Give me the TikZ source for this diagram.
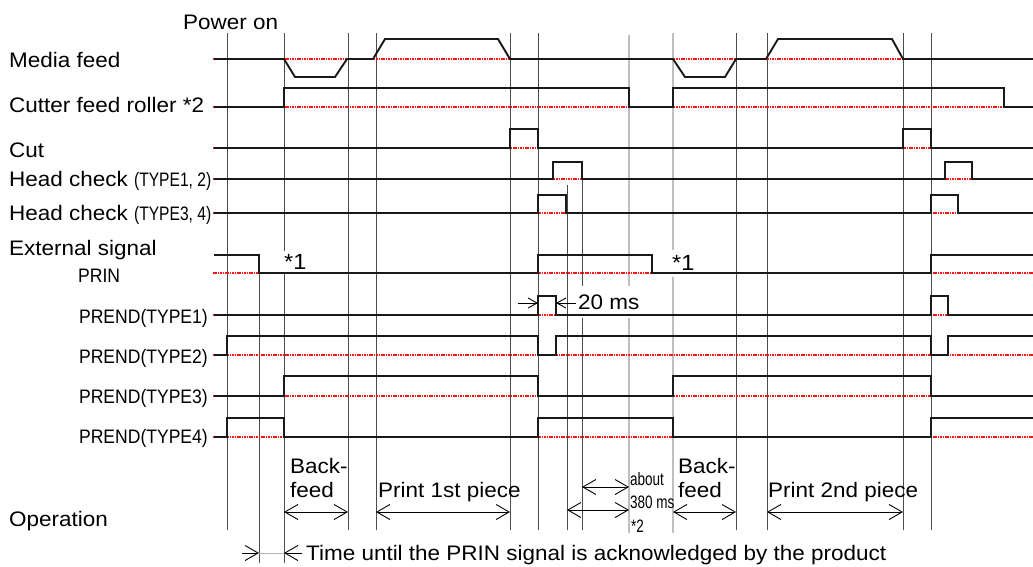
\documentclass[tikz,border=0pt]{standalone}
\usepackage{fontspec}
\setmainfont{Liberation Sans}[FakeStretch=1.07]
\newfontfamily\condfont{Liberation Sans}[FakeStretch=0.8]
\newfontfamily\prendfont{Liberation Sans}[FakeStretch=0.9]
\newfontfamily\narrowfont{Liberation Sans}[FakeStretch=0.75]
\usetikzlibrary{arrows.meta}
\definecolor{basered}{RGB}{255,20,20}
\newcommand{\bigf}{\fontsize{21}{25}\selectfont}
\newcommand{\cf}{\condfont\fontsize{19.5}{23}\selectfont}
\begin{document}
\begin{tikzpicture}[x=1pt,y=-1pt,
  sig/.style={line width=1.9pt, black!90},
  redbase/.style={draw=basered, line width=1.6pt, dash pattern=on 1.6pt off 0.8pt},
  vline/.style={line width=1pt, black!70},
  vlight/.style={line width=2pt, black!25},
  lab/.style={anchor=base west, inner sep=0pt, font=\bigf},
  clab/.style={anchor=base east, inner sep=0pt, font=\prendfont\fontsize{19.5}{23}\selectfont},
  tlab/.style={anchor=base west, inner sep=0pt, font=\narrowfont\fontsize{18}{20}\selectfont},
  blank/.style={fill=white, anchor=west, inner xsep=1pt, inner ysep=0pt, font=\bigf},
  dimarrow/.style={line width=0.9pt, {Straight Barb[length=13pt,width=15pt]}-{Straight Barb[length=13pt,width=15pt]}},
  onearrow/.style={line width=0.9pt, -{Straight Barb[length=13pt,width=15pt]}},
  smallarrow/.style={line width=0.9pt, -{Straight Barb[length=9pt,width=10pt]}}
]
\useasboundingbox (0,0) rectangle (1033,566);

% vertical reference lines
\foreach \x in {227,348,376,510,538,736,767,903,931}
  \draw[vline] (\x,33) -- (\x,530);
\draw[vline] (284,33) -- (284,563);
\draw[vline] (259,255) -- (259,563);
\draw[vline] (567,185) -- (567,530);
\draw[vline] (582,162) -- (582,530);
\draw[vlight] (629,35) -- (629,533);
\draw[vlight] (673,33) -- (673,533);

% labels with white background over the lines
\node[blank, minimum height=23pt, font=\fontsize{22}{24}\selectfont] (s1a) at (283,262) {*1};
\node[blank, minimum height=27pt, font=\fontsize{22}{24}\selectfont] (s1b) at (671,263) {*1};
\node[blank, minimum height=32pt] (twenty) at (577,302) {20 ms};

% red baselines
\foreach \y in {59,107,148,179,213,273,315,355,396,437}
  \draw[redbase] (213,\y) -- (1033,\y);

% Media feed
\draw[sig] (214,59) -- (284,59) -- (295,77) -- (335,77) -- (347,59) -- (373,59) -- (385,39) -- (498,39) -- (510,59)
  -- (673,59) -- (685,77) -- (725,77) -- (736,59) -- (766,59) -- (778,39) -- (892,39) -- (903,59) -- (1033,59);
% Cutter feed roller
\draw[sig] (214,107) -- (284,107) -- (284,88) -- (629,88) -- (629,107) -- (673,107) -- (673,88) -- (1004,88) -- (1004,107) -- (1033,107);
% Cut
\draw[sig] (214,148) -- (510,148) -- (510,129) -- (538,129) -- (538,148) -- (903,148) -- (903,129) -- (931,129) -- (931,148) -- (1033,148);
% Head check TYPE1,2
\draw[sig] (214,179) -- (553,179) -- (553,162) -- (582,162) -- (582,179) -- (945,179) -- (945,162) -- (972,162) -- (972,179) -- (1033,179);
% Head check TYPE3,4
\draw[sig] (214,213) -- (538,213) -- (538,195) -- (566,195) -- (566,213) -- (931,213) -- (931,195) -- (958,195) -- (958,213) -- (1033,213);
% PRIN
\draw[sig] (214,255) -- (259,255) -- (259,273) -- (538,273) -- (538,255) -- (652,255) -- (652,273) -- (931,273) -- (931,255) -- (1033,255);
% PREND TYPE1
\draw[sig] (214,315) -- (538,315) -- (538,296) -- (556,296) -- (556,315) -- (931,315) -- (931,296) -- (948,296) -- (948,315) -- (1033,315);
% PREND TYPE2
\draw[sig] (214,355) -- (227,355) -- (227,336) -- (538,336) -- (538,355) -- (556,355) -- (556,336) -- (931,336) -- (931,355) -- (948,355) -- (948,336) -- (1033,336);
% PREND TYPE3
\draw[sig] (214,396) -- (284,396) -- (284,376) -- (538,376) -- (538,396) -- (673,396) -- (673,376) -- (931,376) -- (931,396) -- (1033,396);
% PREND TYPE4
\draw[sig] (214,437) -- (227,437) -- (227,418) -- (284,418) -- (284,437) -- (538,437) -- (538,418) -- (673,418) -- (673,437) -- (931,437) -- (931,418) -- (1033,418);

% left labels
\node[lab] (pwr) at (183,29) {Power on};
\node[lab] (lmf) at (9,67) {Media feed};
\node[lab] (lcf) at (9,112) {Cutter feed roller *2};
\node[lab] (lcut) at (9,157) {Cut};
\node[lab] (lhc12) at (9,186) {Head check {\cf(TYPE1, 2)}};
\node[lab] (lhc34) at (9,220) {Head check {\cf(TYPE3, 4)}};
\node[lab] (lext) at (9,255) {External signal};
\node[clab, anchor=base west] (lprin) at (78,282) {PRIN};
\node[clab] (lp1) at (208,323) {PREND(TYPE1)};
\node[clab] (lp2) at (208,363) {PREND(TYPE2)};
\node[clab] (lp3) at (208,403) {PREND(TYPE3)};
\node[clab] (lp4) at (208,443) {PREND(TYPE4)};
\node[lab] (lop) at (9,526) {Operation};

% 20 ms arrows
\coordinate (ta) at (518,303); \coordinate (tb) at (538,303);
\coordinate (tc) at (576,303); \coordinate (td) at (556,303);
\draw[smallarrow] (ta) -- (tb);
\draw[smallarrow] (tc) -- (td);

% operation arrows
\coordinate (b1a) at (284,512); \coordinate (b1b) at (348,512);
\coordinate (p1a) at (376,512); \coordinate (p1b) at (510,512);
\coordinate (b2a) at (673,512); \coordinate (b2b) at (736,512);
\coordinate (p2a) at (767,512); \coordinate (p2b) at (903,512);
\coordinate (ua) at (582,487); \coordinate (ub) at (629,487);
\coordinate (la) at (567,510); \coordinate (lb) at (629,510);
\draw[dimarrow] (b1a) -- (b1b);
\draw[dimarrow] (p1a) -- (p1b);
\draw[dimarrow] (b2a) -- (b2b);
\draw[dimarrow] (p2a) -- (p2b);
\draw[dimarrow] (ua) -- (ub);
\draw[dimarrow] (la) -- (lb);

\node[lab] (bk1) at (290,473) {Back-};
\node[lab] (fd1) at (290,497) {feed};
\node[lab] (pr1) at (378,497) {Print 1st piece};
\node[lab] (bk2) at (678,473) {Back-};
\node[lab] (fd2) at (678,497) {feed};
\node[lab] (pr2) at (768,497) {Print 2nd piece};
\node[tlab] (ab1) at (630,485) {about};
\node[tlab] (ab2) at (630,508) {380 ms};
\node[tlab] (ab3) at (631,532) {*2};

% time until arrows
\coordinate (wa) at (242,553); \coordinate (wb) at (259,553);
\coordinate (wc) at (302,553); \coordinate (wd) at (284,553);
\draw[line width=0.8pt, black!30] (wb) -- (wd);
\draw[onearrow] (wa) -- (wb);
\draw[onearrow] (wc) -- (wd);
\node[lab] (tu) at (306,560) {Time until the PRIN signal is acknowledged by the product};
\end{tikzpicture}
\end{document}
